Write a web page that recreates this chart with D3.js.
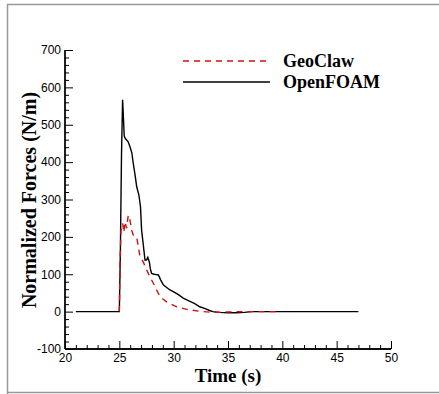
<!DOCTYPE html>
<html><head><meta charset="utf-8">
<script src="https://cdn.jsdelivr.net/npm/d3@7"></script>
<style>body{margin:0;background:#fff}svg{display:block}</style>
</head><body><div id="c"></div>
<script>
const xTicks = [20,25,30,35,40,45,50];
const yTicks = [-100,0,100,200,300,400,500,600,700];
const seriesNames = ["GeoClaw","OpenFOAM"];
const openfoamT = [21,25.0,25.1,25.2,25.3,25.36,25.45,25.55,25.8,25.98,26.15,26.28,26.45,26.6,26.8,26.95,27.05,27.2,27.36,27.5,27.62,27.76,27.85,27.97,28.2,28.4,28.6,28.8,29.06,29.3,29.66,30.0,30.4,30.88,31.4,31.9,32.4,32.9,33.3,33.6,34.2,35.0,35.8,36.5,37.2,38,40,47];
const openfoamV = [0,0,170,420,567,530,470,463,455,441,425,397,365,334,312,280,218,180,138,138,145,133,115,102,100,99,98,85,71,66,58,53,46,36,29,22,13,8,3,0,-2,-3,-3,-2,0,0,0,0];
const geoclawT = [25.0,25.06,25.15,25.31,25.42,25.52,25.67,25.82,25.98,26.13,26.28,26.45,26.59,26.75,26.9,27.2,27.52,27.82,28.13,28.43,28.74,29.35,30.27,31.2,32.4,33.6,35.0,36.5,38,39.5];
const geoclawV = [0,120,218,236,212,240,223,258,245,218,205,202,200,174,147,133,111,93,76,58,40,26,13,6,1,-2,-1,0,0,0];

const W=439,H=394;
const svg=d3.select("#c").append("svg").attr("width",W).attr("height",H);
// outer frame
svg.append("path").attr("d","M7.5,"+H+"V4.5H"+W).attr("fill","none").attr("stroke","#999").attr("stroke-width",1.5);
svg.append("path").attr("d","M7,392.5H"+W).attr("fill","none").attr("stroke","#999").attr("stroke-width",1.5);

const x=d3.scaleLinear().domain([20,50]).range([65,391]);
const y=d3.scaleLinear().domain([-100,700]).range([349,50]);

const xMinor=d3.range(20,50.01,1).filter(v=>v%5!==0);
const yMinor=d3.range(-100,700.01,20).filter(v=>v%100!==0);
const fmt=d=>String(d);

const gx=svg.append("g").attr("transform","translate(0,"+349+")");
gx.call(d3.axisBottom(x).tickValues(xTicks).tickSize(-8).tickPadding(3).tickFormat(fmt));
gx.append("g").call(d3.axisBottom(x).tickValues(xMinor).tickSize(-4).tickFormat(""));
gx.selectAll(".tick line").attr("stroke","#000");
gx.selectAll("text").attr("font-family","Liberation Sans, Arial, sans-serif").attr("font-size",12).attr("fill","#000").attr("dy","0.8em");

const gy=svg.append("g").attr("transform","translate(65,0)");
gy.call(d3.axisLeft(y).tickValues(yTicks).tickSize(-8).tickPadding(4).tickFormat(fmt));
gy.append("g").call(d3.axisLeft(y).tickValues(yMinor).tickSize(-4).tickFormat(""));
gy.selectAll(".tick line").attr("stroke","#000");
gy.selectAll("text").attr("font-family","Liberation Sans, Arial, sans-serif").attr("font-size",12).attr("fill","#000");
gx.selectAll(".domain").attr("d","M65,0H391").attr("stroke","#000").attr("stroke-width",1.3);
gy.selectAll(".domain").attr("d","M0,50V349").attr("stroke","#000").attr("stroke-width",1.3);

const line=d3.line().x(d=>x(d[0])).y(d=>y(d[1]));
const oData=openfoamT.map((t,i)=>[t,openfoamV[i]]);
const gData=geoclawT.map((t,i)=>[t,geoclawV[i]]);
svg.append("path").datum(oData).attr("d",line).attr("fill","none").attr("stroke","#000").attr("stroke-width",1.4);
svg.append("path").datum(gData).attr("d",line).attr("fill","none").attr("stroke","#d01010").attr("stroke-width",1.4).attr("stroke-dasharray","6,5");

// axis titles
svg.append("text").attr("x",x(35)).attr("y",382).attr("text-anchor","middle")
 .attr("font-family","Liberation Serif, Times New Roman, serif").attr("font-weight","bold").attr("font-size",19).text("Time (s)");
svg.append("text").attr("transform","translate(36,200) rotate(-90)").attr("text-anchor","middle")
 .attr("font-family","Liberation Serif, Times New Roman, serif").attr("font-weight","bold").attr("font-size",20).text("Normalized Forces (N/m)");

// legend
const leg=svg.append("g");
[["GeoClaw","#d01010","6,5",61],["OpenFOAM","#000",null,82]].forEach(([n,c,da,yy])=>{
  const l=leg.append("line").attr("x1",183).attr("x2",270).attr("y1",yy).attr("y2",yy).attr("stroke",c).attr("stroke-width",1.4);
  if(da) l.attr("stroke-dasharray",da);
  leg.append("text").attr("x",283).attr("y",yy).attr("dy","0.35em").attr("font-family","Liberation Serif, Times New Roman, serif").attr("font-weight","bold").attr("font-size",18).text(n);
});
</script></body></html>
